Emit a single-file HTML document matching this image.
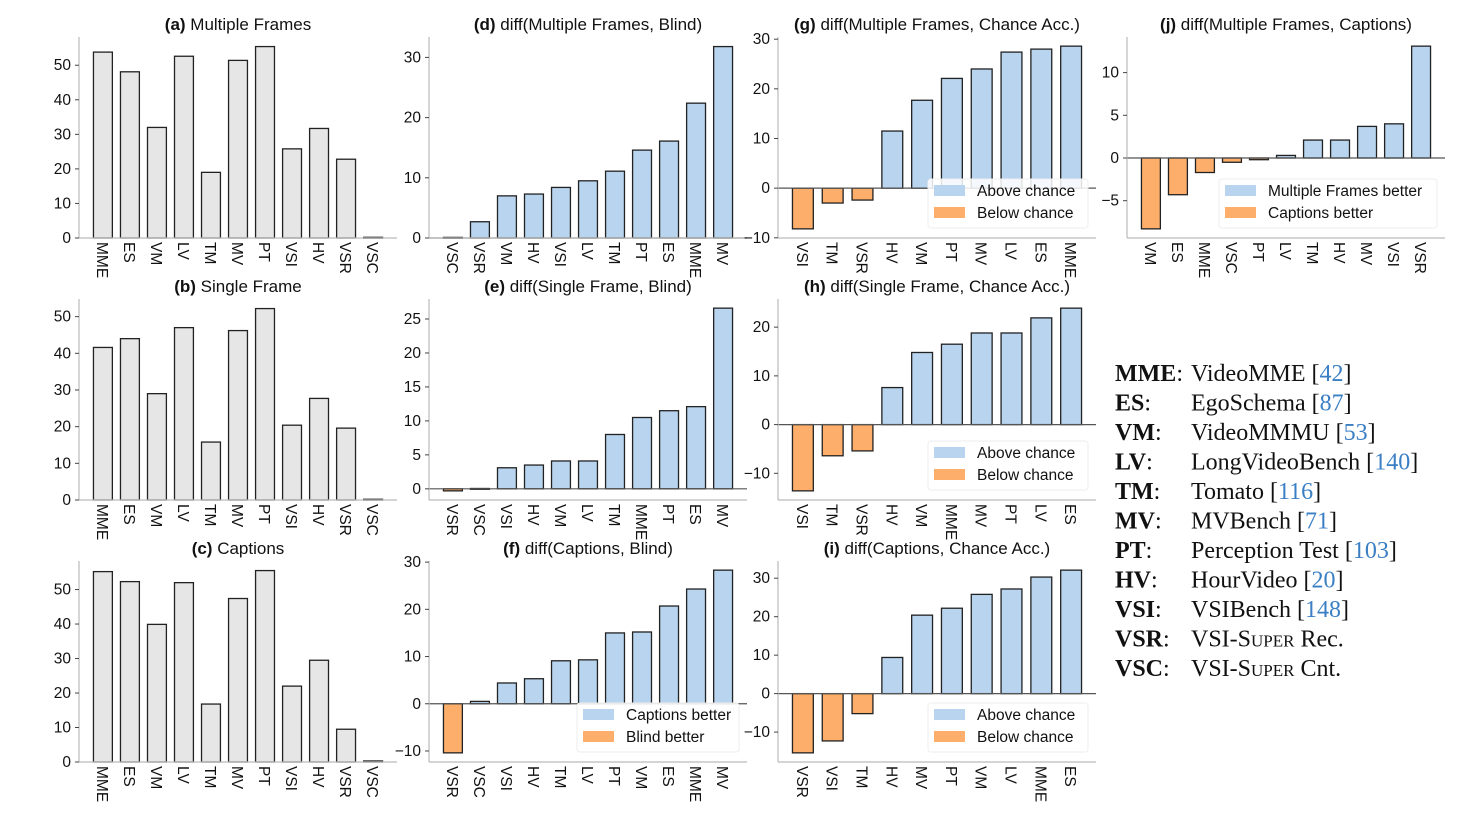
<!DOCTYPE html>
<html><head><meta charset="utf-8"><style>
body{margin:0;background:#fff;}
svg{display:block;font-family:"Liberation Sans","DejaVu Sans",sans-serif;}
</style></head><body>
<svg id="fig" width="1468" height="822" viewBox="0 0 1468 822" xmlns="http://www.w3.org/2000/svg"></svg>
<script>
const NS="http://www.w3.org/2000/svg";
const svg=document.getElementById('fig');
// ---- data ----
const catsA=["MME","ES","VM","LV","TM","MV","PT","VSI","HV","VSR","VSC"];
const valsA=[53.8,48.1,32,52.6,19,51.4,55.4,25.8,31.7,22.8,0.2];
const catsB=["MME","ES","VM","LV","TM","MV","PT","VSI","HV","VSR","VSC"];
const valsB=[41.6,44,29,47,15.8,46.2,52.2,20.4,27.7,19.6,0.2];
const catsC=["MME","ES","VM","LV","TM","MV","PT","VSI","HV","VSR","VSC"];
const valsC=[55.2,52.3,39.9,52,16.8,47.4,55.5,22,29.5,9.5,0.3];
const catsD=["VSC","VSR","VM","HV","VSI","LV","TM","PT","ES","MME","MV"];
const valsD=[0.1,2.7,7,7.3,8.4,9.5,11.1,14.6,16.1,22.4,31.8];
const catsE=["VSR","VSC","VSI","HV","VM","LV","TM","MME","PT","ES","MV"];
const valsE=[-0.3,0.05,3.1,3.5,4.1,4.1,8,10.5,11.5,12.1,26.6];
const catsF=["VSR","VSC","VSI","HV","TM","LV","PT","VM","ES","MME","MV"];
const valsF=[-10.4,0.5,4.4,5.3,9.1,9.3,15,15.2,20.7,24.3,28.3];
const catsG=["VSI","TM","VSR","HV","VM","PT","MV","LV","ES","MME"];
const valsG=[-8.2,-3,-2.4,11.5,17.7,22.1,24,27.4,28,28.6];
const catsH=["VSI","TM","VSR","HV","VM","MME","MV","PT","LV","ES"];
const valsH=[-13.6,-6.4,-5.4,7.6,14.8,16.5,18.8,18.8,21.9,23.9];
const catsI=["VSR","VSI","TM","HV","MV","PT","VM","LV","MME","ES"];
const valsI=[-15.4,-12.3,-5.2,9.4,20.4,22.2,25.8,27.2,30.3,32.1];
const catsJ=["VM","ES","MME","VSC","PT","LV","TM","HV","MV","VSI","VSR"];
const valsJ=[-8.3,-4.3,-1.7,-0.5,-0.2,0.3,2.1,2.1,3.7,4.0,13.1];
const ticksA=[0,10,20,30,40,50];
const ticksD=[0,10,20,30];
const ticksE=[0,5,10,15,20,25];
const ticksF=[-10,0,10,20,30];
const ticksH=[-10,0,10,20];
const ticksJ=[-5,0,5,10];

function el(tag,attrs,parent){const e=document.createElementNS(NS,tag);for(const k in attrs)e.setAttribute(k,attrs[k]);(parent||svg).appendChild(e);return e;}
const BLUE="#b8d4ee",ORANGE="#fdae6b",GRAY="#e6e6e6";

function panel(o){
  const g=el('g',{});
  
  
  const x0=o.x,x1=o.x+318,yT=o.top,yB=o.top+201;
  const n=o.cats.length;
  let mn=Math.min(0,...o.vals),mx=Math.max(0,...o.vals);
  const r=mx-mn;let lo=mn<0?mn-0.05*r:0,hi=mx+0.05*r;
  const ys=v=>yB-(v-lo)/(hi-lo)*(yB-yT);
  const span=(n-1+0.7)*1.1;
  const xs=i=>x0+(i+0.35+0.05*(n-1+0.7))/span*318;
  const bw=0.7/span*318;
  const t=el('text',{x:(x0+x1)/2,y:o.top-7,'text-anchor':'middle','font-size':17,fill:'#111'},g);
  
  
  const b=el('tspan',{'font-weight':'bold'},t);b.textContent='('+o.id+')';
  const t2=el('tspan',{},t);t2.textContent=' '+o.title;
  o.vals.forEach((v,i)=>{
    const ya=ys(v),y0=ys(0);
    const col=o.diff?(v>=0?BLUE:ORANGE):GRAY;
    const rc=el('rect',{x:xs(i)-bw/2,y:Math.min(ya,y0),width:bw,height:Math.max(Math.abs(ya-y0),0.8),fill:col,stroke:'#222','stroke-width':1.3},g);
    
    
    const lb=el('text',{transform:`translate(${xs(i)-6},${yB+4}) rotate(90)`,'font-size':15.5,fill:'#111'},g);
    
    
    lb.textContent=o.cats[i];
  });
  if(o.diff){const zl=el('line',{x1:x0,x2:x1,y1:ys(0),y2:ys(0),stroke:'#555','stroke-width':1.2},g);
    }
  el('line',{x1:x0,x2:x0,y1:yT,y2:yB,stroke:'#bbb','stroke-width':1.2},g);
  el('line',{x1:x0,x2:x1,y1:yB,y2:yB,stroke:'#bbb','stroke-width':1.2},g);
  o.ticks.forEach(tv=>{
    const y=ys(tv);
    el('line',{x1:x0-4,x2:x0,y1:y,y2:y,stroke:'#444'},g);
    const tl=el('text',{x:x0-8,y:y+5,'text-anchor':'end','font-size':15.5,fill:'#111'},g);
    
    
    tl.textContent=(tv<0?'\u2212':'')+Math.abs(tv);
  });
  if(o.legend){
    const lg=el('g',{},g);
    
    
    const w=o.legend[2]||162;
    el('rect',{x:x1-w-8,y:yB-59,width:w,height:49,rx:3,fill:'#fff','fill-opacity':0.85,stroke:'#eee'},lg);
    [[BLUE,o.legend[0]],[ORANGE,o.legend[1]]].forEach((e,k)=>{
      el('rect',{x:x1-w-2,y:yB-53+k*22,width:31,height:11,fill:e[0]},lg);
      const tx=el('text',{x:x1-w+41,y:yB-42+k*22,'font-size':15.5,fill:'#111'},lg);
      
      
      tx.textContent=e[1];
    });
  }
}
const R=[37,299,561],C=[79,429,778,1127];
const AB=["Above chance","Below chance"];
panel({id:'a',title:'Multiple Frames',x:C[0],top:R[0],cats:catsA,vals:valsA,ticks:ticksA});
panel({id:'b',title:'Single Frame',x:C[0],top:R[1],cats:catsB,vals:valsB,ticks:ticksA});
panel({id:'c',title:'Captions',x:C[0],top:R[2],cats:catsC,vals:valsC,ticks:ticksA});
panel({id:'d',title:'diff(Multiple Frames, Blind)',x:C[1],top:R[0],cats:catsD,vals:valsD,ticks:ticksD,diff:true});
panel({id:'e',title:'diff(Single Frame, Blind)',x:C[1],top:R[1],cats:catsE,vals:valsE,ticks:ticksE,diff:true});
panel({id:'f',title:'diff(Captions, Blind)',x:C[1],top:R[2],cats:catsF,vals:valsF,ticks:ticksF,diff:true,legend:["Captions better","Blind better",162]});
panel({id:'g',title:'diff(Multiple Frames, Chance Acc.)',x:C[2],top:R[0],cats:catsG,vals:valsG,ticks:[-10,0,10,20,30],diff:true,legend:[...AB,160]});
panel({id:'h',title:'diff(Single Frame, Chance Acc.)',x:C[2],top:R[1],cats:catsH,vals:valsH,ticks:ticksH,diff:true,legend:[...AB,160]});
panel({id:'i',title:'diff(Captions, Chance Acc.)',x:C[2],top:R[2],cats:catsI,vals:valsI,ticks:[-10,0,10,20,30],diff:true,legend:[...AB,160]});
panel({id:'j',title:'diff(Multiple Frames, Captions)',x:C[3],top:R[0],cats:catsJ,vals:valsJ,ticks:ticksJ,diff:true,legend:["Multiple Frames better","Captions better",218]});

const keyAbbr=["MME","ES","VM","LV","TM","MV","PT","HV","VSI","VSR","VSC"];
const keyName=["VideoMME ","EgoSchema ","VideoMMMU ","LongVideoBench ","Tomato ","MVBench ","Perception Test ","HourVideo ","VSIBench ","VSI-","VSI-"];
const keyRef=["42","87","53","140","116","71","103","20","148","",""];
const kg=el('g',{'font-family':'"Liberation Serif","DejaVu Serif",serif','font-size':24,fill:'#111'});


keyAbbr.forEach((a,i)=>{
  const y=381+i*29.5;
  const t=el('text',{x:1115,y:y},kg);
  const ab=el('tspan',{'font-weight':'bold'},t);ab.textContent=a;
  const co=el('tspan',{},t);co.textContent=':';
  const v=el('text',{x:1191,y:y},kg);
  
  
  if(keyRef[i]){
    const s=el('tspan',{},v);s.textContent=keyName[i]+'[';
    const r=el('tspan',{fill:'#3a7fc4'},v);r.textContent=keyRef[i];
    const e=el('tspan',{},v);e.textContent=']';
  } else {
    const s=el('tspan',{},v);s.textContent='VSI-';
    const sc=el('tspan',{'font-variant':'small-caps'},v);sc.textContent='Super';
    const e=el('tspan',{},v);e.textContent=(a=="VSR"?' Rec.':' Cnt.');
  }
});
</script>
</body></html>
